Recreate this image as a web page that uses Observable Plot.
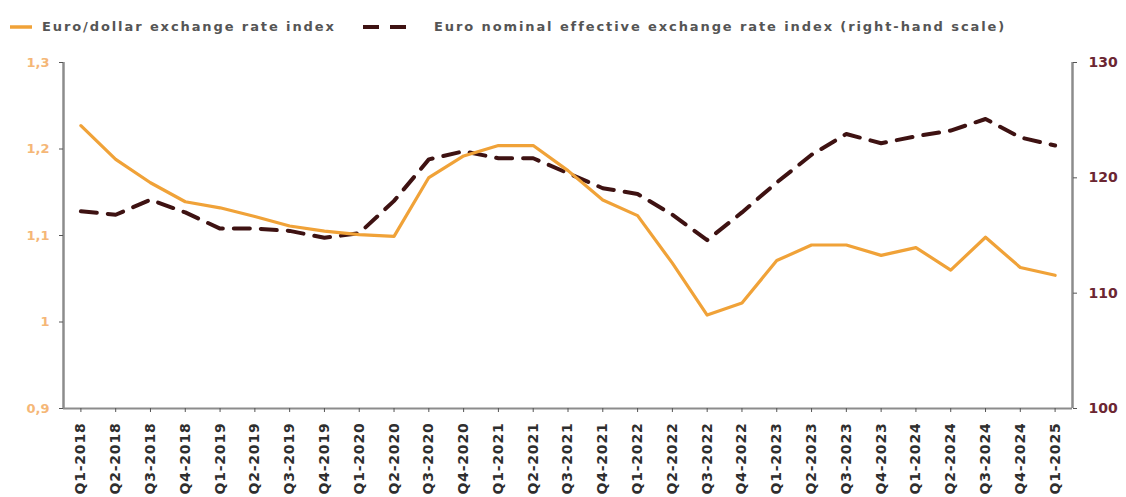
<!DOCTYPE html>
<html>
<head>
<meta charset="utf-8">
<script src="https://cdn.jsdelivr.net/npm/d3@7"></script>
<script src="https://cdn.jsdelivr.net/npm/@observablehq/plot@0.6"></script>
<style>
  html, body { margin: 0; padding: 0; background: #fff; }
  #legend { position: relative; width: 1126px; height: 50px; font-family: "DejaVu Sans", sans-serif; font-weight: bold; font-size: 13px; color: #555; letter-spacing: 1.9px; }
  #legend .sw { position: absolute; top: 19px; }
  #legend .lab { position: absolute; top: 19px; white-space: nowrap; line-height: 16px; }
</style>
</head>
<body>
<div id="legend"></div>
<div id="chart"></div>
<script>
const quarters = ["Q1-2018","Q2-2018","Q3-2018","Q4-2018","Q1-2019","Q2-2019","Q3-2019","Q4-2019",
  "Q1-2020","Q2-2020","Q3-2020","Q4-2020","Q1-2021","Q2-2021","Q3-2021","Q4-2021",
  "Q1-2022","Q2-2022","Q3-2022","Q4-2022","Q1-2023","Q2-2023","Q3-2023","Q4-2023",
  "Q1-2024","Q2-2024","Q3-2024","Q4-2024","Q1-2025"];
const euroDollar = [1.227,1.188,1.161,1.139,1.132,1.122,1.111,1.105,1.101,1.099,1.167,1.192,1.204,1.204,
  1.175,1.141,1.123,1.068,1.008,1.022,1.071,1.089,1.089,1.077,1.086,1.060,1.098,1.063,1.054];
const euroNEER = [117.1,116.8,118.1,117.0,115.6,115.6,115.4,114.8,115.2,118.0,121.6,122.3,121.7,121.7,
  120.4,119.1,118.6,116.8,114.6,117.0,119.6,122.0,123.8,123.0,123.6,124.1,125.1,123.5,122.8];
const leftTicks = [0.9, 1.0, 1.1, 1.2, 1.3];
const rightTicks = [100, 110, 120, 130];
const seriesNames = ["Euro/dollar exchange rate index", "Euro nominal effective exchange rate index (right-hand scale)"];

const ORANGE = "#F0A238", DARK = "#3E1212";
const toLeft = v => 0.9 + (v - 100) / 30 * 0.4;
const fromLeft = y => 100 + (y - 0.9) / 0.4 * 30;

// legend
const legend = document.getElementById("legend");
legend.innerHTML = `
  <svg class="sw" style="left:10px" width="24" height="16"><line x1="0" x2="22" y1="8" y2="8" stroke="${ORANGE}" stroke-width="3.5"/></svg>
  <span class="lab" style="left:42px">${seriesNames[0]}</span>
  <svg class="sw" style="left:363px" width="60" height="16"><line x1="0" x2="50" y1="8" y2="8" stroke="${DARK}" stroke-width="4" stroke-dasharray="16,11"/></svg>
  <span class="lab" style="left:434px">${seriesNames[1]}</span>`;

const dataL = quarters.map((q, i) => ({i, q, v: euroDollar[i]}));
const dataR = quarters.map((q, i) => ({i, q, v: toLeft(euroNEER[i])}));

const plot = Plot.plot({
  width: 1126,
  height: 447,
  marginTop: 12,
  marginBottom: 89,
  marginLeft: 63,
  marginRight: 54,
  style: {fontFamily: "DejaVu Sans, sans-serif", background: "#fff"},
  x: {domain: [-0.5, quarters.length - 0.5], axis: null},
  y: {domain: [0.9, 1.3], axis: null},
  marks: [
    Plot.ruleX([-0.5], {stroke: "#8c8c8c", strokeWidth: 2.5}),
    Plot.ruleX([quarters.length - 0.5], {stroke: "#8c8c8c", strokeWidth: 2.5}),
    Plot.ruleY([0.9], {stroke: "#8c8c8c", strokeWidth: 2}),
    Plot.axisX({ticks: d3.range(quarters.length), tickFormat: i => quarters[i], tickRotate: -90, label: null,
      tickSize: 4, tickPadding: 10, fontSize: 14, fontWeight: "bold", color: "#2e2e2e"}),
    Plot.axisY(leftTicks, {anchor: "left", label: null, tickSize: 4, tickPadding: 10, fontSize: 13, fontWeight: "bold",
      color: "#F5B777", tickFormat: d => String(+d.toFixed(1)).replace(".", ",")}),
    Plot.axisY(rightTicks.map(toLeft), {anchor: "right", label: null, tickSize: 4, tickPadding: 12, fontSize: 14, fontWeight: "bold",
      color: "#6B2632", tickFormat: d => String(Math.round(fromLeft(d)))}),
    Plot.line(dataR, {x: "i", y: "v", stroke: DARK, strokeWidth: 4, strokeDasharray: "16,11"}),
    Plot.line(dataL, {x: "i", y: "v", stroke: ORANGE, strokeWidth: 3.2})
  ]
});
document.getElementById("chart").appendChild(plot);
// grey tick marks
d3.select(plot).selectAll('g[aria-label$="tick"] path').attr("stroke", "#555");
d3.select(plot).selectAll('g[aria-label="x-axis tick label"] text').attr("letter-spacing", "0.8px");
</script>
</body>
</html>
